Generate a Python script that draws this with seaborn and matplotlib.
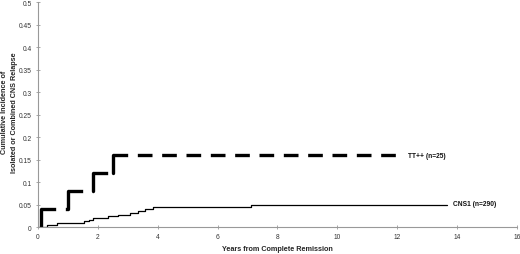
import matplotlib
matplotlib.use("Agg")
import matplotlib.pyplot as plt
import seaborn as sns
import pandas as pd

# TT++ (n=25) cumulative incidence (step function)
tt_years = [0, 0.11, 1.0, 1.85, 2.5, 12.0]
tt_inc = [0, 0.04, 0.08, 0.12, 0.16, 0.16]

# CNS1 (n=290) cumulative incidence (step function)
cns_years = [0, 0.3, 0.63, 1.55, 1.7, 1.85, 2.35, 2.68, 3.08, 3.35, 3.58, 3.85, 6.87, 7.12, 13.65]
cns_inc = [0, 0.005, 0.009, 0.013, 0.016, 0.02, 0.024, 0.027, 0.032, 0.036, 0.04, 0.044, 0.046, 0.05, 0.05]

series_labels = ["TT++ (n=25)", "CNS1 (n=290)"]
x_ticks = list(range(0, 17, 2))
y_ticks = [0, 0.05, 0.1, 0.15, 0.2, 0.25, 0.3, 0.35, 0.4, 0.45, 0.5]
y_tick_labels = ["0", "0.05", "0.1", "0.15", "0.2", "0.25", "0.3", "0.35", "0.4", "0.45", "0.5"]

sns.set_style("white")
plt.rcParams['font.family'] = ['Liberation Sans', 'DejaVu Sans']

# Break the TT++ step curve into its rise (solid) and plateau (dashed) pieces,
# so the dash pattern restarts at every step like in the original figure.
rows = []
seg = 0
for i in range(1, len(tt_years) - 1):
    rows.append({"years": tt_years[i], "inc": tt_inc[i - 1], "seg": seg, "kind": "rise"})
    rows.append({"years": tt_years[i], "inc": tt_inc[i], "seg": seg, "kind": "rise"})
    seg += 1
    rows.append({"years": tt_years[i], "inc": tt_inc[i], "seg": seg, "kind": "plateau"})
    rows.append({"years": tt_years[i + 1], "inc": tt_inc[i], "seg": seg, "kind": "plateau"})
    seg += 1
tt_df = pd.DataFrame(rows)
cns_df = pd.DataFrame({"years": cns_years, "inc": cns_inc})

fig = plt.figure(figsize=(5.2, 2.55), dpi=100)
ax = fig.add_axes([0.073, 0.105, 0.921, 0.883])

sns.lineplot(data=tt_df, x="years", y="inc", units="seg", style="kind", ax=ax,
             color="black", linewidth=2.4, estimator=None, sort=False,
             dashes={"rise": "", "plateau": (4.4, 2.9)}, legend=False)
sns.lineplot(data=cns_df, x="years", y="inc", ax=ax, color="black",
             drawstyle="steps-post", linewidth=0.9, estimator=None)

ax.text(tt_years[-1] + 0.35, tt_inc[-1], series_labels[0], fontsize=4.8,
        fontweight="bold", va="center", ha="left", color="#111111")
ax.text(cns_years[-1] + 0.2, cns_inc[-1] + 0.003, series_labels[1], fontsize=4.8,
        fontweight="bold", va="center", ha="left", color="#111111")

ax.set_xlim(0, 16)
ax.set_ylim(0, 0.5)
ax.set_xticks(x_ticks)
ax.set_xticklabels([str(t) for t in x_ticks])
ax.set_yticks(y_ticks)
ax.set_yticklabels(y_tick_labels)

ax.set_xlabel("Years from Complete Remission", fontsize=5.2, fontweight="bold", labelpad=4)
ax.set_ylabel("Cumulative Incidence of\nIsolated or Combined CNS Relapse", fontsize=5.2,
              fontweight="bold", linespacing=1.6)
ax.yaxis.set_label_coords(-0.041, 0.515)

for side in ["top", "right"]:
    ax.spines[side].set_visible(False)
for side in ["left", "bottom"]:
    ax.spines[side].set_color("#999999")
    ax.spines[side].set_linewidth(0.8)

ax.tick_params(axis="both", direction="inout", length=3, width=0.6, color="#999999",
               labelsize=4.8, labelcolor="#333333")
ax.tick_params(axis="y", pad=3)
ax.tick_params(axis="x", pad=2.5)
ax.tick_params(left=True, bottom=True)

fig.savefig("out.png", dpi=100)
